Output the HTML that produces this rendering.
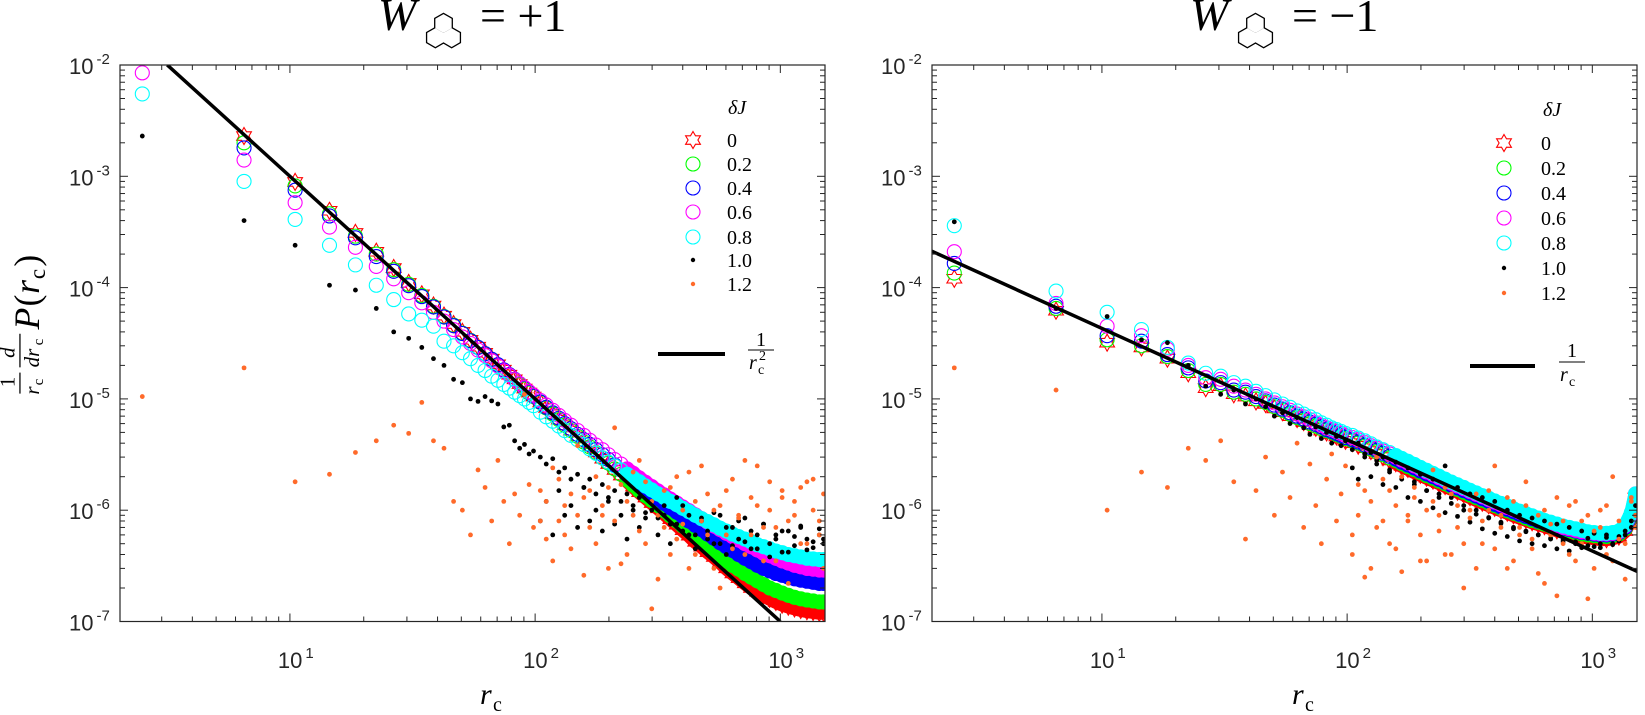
<!DOCTYPE html>
<html><head><meta charset="utf-8">
<style>
html,body{margin:0;padding:0;background:#fff;}
svg{display:block;}
.tk{font-family:"Liberation Sans",sans-serif;font-size:22px;fill:#262626;}
.ex{font-size:15px;}
.it{font-family:"Liberation Serif","DejaVu Serif",serif;font-style:italic;fill:#000;}
.rm{font-family:"Liberation Serif","DejaVu Serif",serif;fill:#000;}
</style></head>
<body>
<svg id="fig" width="1645" height="715" viewBox="0 0 1645 715" xmlns="http://www.w3.org/2000/svg">
<defs>
<clipPath id="clipL"><rect x="120" y="65" width="705" height="556.5"/></clipPath>
<clipPath id="clipR"><rect x="932" y="65" width="705" height="556.5"/></clipPath>
</defs>
<g id="titles"></g>
<g id="panelL"></g>
<g id="panelR"></g>
<g id="ylabel" transform="translate(0,318) rotate(-90) scale(1.05)">
  <text class="rm" x="-66" y="14" font-size="20">1</text>
  <line x1="-72" x2="-52" y1="19" y2="19" stroke="#000" stroke-width="1.2"/>
  <text class="it" x="-73" y="37" font-size="20">r</text><text class="rm" x="-64" y="41" font-size="14">c</text>
  <text class="it" x="-38" y="14" font-size="20">d</text>
  <line x1="-47" x2="-15" y1="19" y2="19" stroke="#000" stroke-width="1.2"/>
  <text class="it" x="-47" y="37" font-size="20">dr</text><text class="rm" x="-26" y="41" font-size="14">c</text>
  <text class="it" x="-11" y="37" font-size="34">P</text>
  <text class="rm" x="11" y="37" font-size="34">(</text>
  <text class="it" x="23" y="37" font-size="34">r</text>
  <text class="rm" x="37" y="43" font-size="22">c</text>
  <text class="rm" x="49" y="37" font-size="34">)</text>
</g>
<g><text class="it" x="480" y="704" font-size="30">r</text><text class="rm" x="493" y="711" font-size="20">c</text></g>
<g><text class="it" x="1292" y="704" font-size="30">r</text><text class="rm" x="1305" y="711" font-size="20">c</text></g>
</svg>
<script>
// ---- shared x categories (r_c) ----
const rGrid = [2.5,6.5,10.5,14.5,18.5,22.5,26.5,30.5,34.5,38.5,42.5,46.5,50.5,54.5,58.5,62.5,66.5,70.5,74.5,78.5,82.5,86.5,90.5,94.5,98.5,
105,111,118,125,132,140,149,158,167,177,188,199,211,224,237,251,266,282,299,317,336,356,378,400,424,450,477,505,536,568,602,638,676,717,760,805,854,905,959,1017,1078,1142,1211,1284,1361,1442,1500];
const rLate = rGrid.slice(25);
const xTickLabels = ["1","2","3"];
const yTickExps = ["-2","-3","-4","-5","-6","-7"];
const legendLabels = ["0","0.2","0.4","0.6","0.8","1.0","1.2"];
const lineCoefL = 0.1;      // 1/r^2 reference: C / r^2
const lineCoefR = 4.3e-4;   // 1/r reference: C / r

// ---- left panel (W = +1) ----
const L_red = [1.6e-2,2.3e-3,8.9e-4,4.9e-4,3.1e-4,2.1e-4,1.5e-4,1.1e-4,8.7e-5,6.9e-5,5.6e-5,4.7e-5,4.0e-5,3.4e-5,2.95e-5,2.6e-5,2.3e-5,2.05e-5,1.83e-5,1.65e-5,1.5e-5,1.36e-5,1.24e-5,1.14e-5,1.05e-5,
9.3e-6,8.3e-6,7.3e-6,6.5e-6,5.8e-6,5.2e-6,4.6e-6,4.1e-6,3.7e-6,3.3e-6,2.9e-6,2.6e-6,2.3e-6,2.05e-6,1.83e-6,1.63e-6,1.45e-6,1.3e-6,1.16e-6,1.04e-6,9.3e-7,8.3e-7,7.4e-7,6.6e-7,5.9e-7,5.2e-7,4.7e-7,4.2e-7,3.8e-7,3.4e-7,3.0e-7,2.7e-7,2.45e-7,2.2e-7,2.0e-7,1.85e-7,1.72e-7,1.6e-7,1.5e-7,1.42e-7,1.36e-7,1.31e-7,1.27e-7,1.24e-7,1.22e-7,1.2e-7,1.2e-7];
const L_green = [1.5e-2,2.0e-3,8.2e-4,4.6e-4,2.9e-4,2.0e-4,1.45e-4,1.07e-4,8.5e-5,6.8e-5,5.5e-5,4.6e-5,3.9e-5,3.35e-5,2.9e-5,2.55e-5,2.27e-5,2.02e-5,1.81e-5,1.64e-5,1.49e-5,1.35e-5,1.23e-5,1.13e-5,1.05e-5,
9.3e-6,8.3e-6,7.3e-6,6.5e-6,5.8e-6,5.2e-6,4.6e-6,4.1e-6,3.7e-6,3.3e-6,2.95e-6,2.65e-6,2.35e-6,2.1e-6,1.88e-6,1.68e-6,1.5e-6,1.35e-6,1.22e-6,1.1e-6,9.9e-7,8.9e-7,8.0e-7,7.2e-7,6.5e-7,5.8e-7,5.2e-7,4.7e-7,4.25e-7,3.85e-7,3.5e-7,3.2e-7,2.95e-7,2.7e-7,2.5e-7,2.32e-7,2.15e-7,2.0e-7,1.9e-7,1.8e-7,1.72e-7,1.65e-7,1.6e-7,1.56e-7,1.53e-7,1.5e-7,1.5e-7];
const L_blue = [1.3e-2,1.8e-3,7.5e-4,4.4e-4,2.8e-4,1.9e-4,1.4e-4,1.04e-4,8.3e-5,6.7e-5,5.45e-5,4.55e-5,3.87e-5,3.33e-5,2.9e-5,2.55e-5,2.27e-5,2.03e-5,1.82e-5,1.65e-5,1.5e-5,1.37e-5,1.25e-5,1.15e-5,1.06e-5,
9.4e-6,8.4e-6,7.5e-6,6.7e-6,6.0e-6,5.4e-6,4.8e-6,4.3e-6,3.9e-6,3.5e-6,3.15e-6,2.85e-6,2.55e-6,2.3e-6,2.08e-6,1.88e-6,1.7e-6,1.54e-6,1.4e-6,1.27e-6,1.15e-6,1.05e-6,9.6e-7,8.8e-7,8.0e-7,7.3e-7,6.7e-7,6.1e-7,5.6e-7,5.1e-7,4.7e-7,4.35e-7,4.0e-7,3.7e-7,3.45e-7,3.2e-7,3.0e-7,2.85e-7,2.7e-7,2.6e-7,2.5e-7,2.42e-7,2.35e-7,2.3e-7,2.25e-7,2.2e-7,2.2e-7];
const L_magenta = [8.5e-3,1.4e-3,5.8e-4,3.5e-4,2.3e-4,1.55e-4,1.2e-4,9.0e-5,7.3e-5,6.0e-5,5.0e-5,4.2e-5,3.6e-5,3.15e-5,2.75e-5,2.45e-5,2.2e-5,1.98e-5,1.79e-5,1.63e-5,1.49e-5,1.37e-5,1.26e-5,1.16e-5,1.08e-5,
9.7e-6,8.8e-6,7.9e-6,7.1e-6,6.4e-6,5.8e-6,5.2e-6,4.7e-6,4.25e-6,3.85e-6,3.5e-6,3.15e-6,2.85e-6,2.6e-6,2.35e-6,2.15e-6,1.95e-6,1.78e-6,1.63e-6,1.49e-6,1.37e-6,1.26e-6,1.16e-6,1.07e-6,9.9e-7,9.1e-7,8.4e-7,7.8e-7,7.2e-7,6.7e-7,6.2e-7,5.8e-7,5.4e-7,5.0e-7,4.7e-7,4.4e-7,4.1e-7,3.9e-7,3.7e-7,3.5e-7,3.35e-7,3.2e-7,3.1e-7,3.0e-7,2.95e-7,2.9e-7,2.9e-7];
const L_cyan = [5.5e-3,9.0e-4,4.1e-4,2.4e-4,1.6e-4,1.05e-4,7.8e-5,5.8e-5,5.1e-5,4.5e-5,3.3e-5,3.0e-5,2.6e-5,2.3e-5,2.0e-5,1.8e-5,1.6e-5,1.47e-5,1.35e-5,1.25e-5,1.15e-5,1.07e-5,1.0e-5,9.3e-6,8.7e-6,
7.6e-6,6.9e-6,6.3e-6,5.7e-6,5.2e-6,4.7e-6,4.3e-6,3.9e-6,3.55e-6,3.25e-6,2.95e-6,2.7e-6,2.5e-6,2.3e-6,2.1e-6,1.95e-6,1.8e-6,1.65e-6,1.52e-6,1.4e-6,1.3e-6,1.2e-6,1.12e-6,1.04e-6,9.7e-7,9.0e-7,8.4e-7,7.9e-7,7.4e-7,6.9e-7,6.5e-7,6.1e-7,5.8e-7,5.5e-7,5.2e-7,4.9e-7,4.7e-7,4.5e-7,4.3e-7,4.15e-7,4.0e-7,3.9e-7,3.8e-7,3.7e-7,3.65e-7,3.6e-7,3.6e-7];
const L_black = [2.3e-3,4.0e-4,2.4e-4,1.05e-4,9.5e-5,6.5e-5,4.0e-5,3.5e-5,2.9e-5,2.3e-5,2.0e-5,1.5e-5,1.4e-5,1.0e-5,9.5e-6,1.05e-5,9.6e-6,9.0e-6,5.6e-6,5.8e-6,4.2e-6,3.6e-6,3.9e-6,3.2e-6,3.4e-6,
3.0e-6,2.6e-6,2.9e-6,2.2e-6,2.4e-6,1.9e-6,2.1e-6,1.6e-6,1.9e-6,1.4e-6,1.7e-6,1.3e-6,1.5e-6,1.2e-6,1.4e-6,1.0e-6,1.3e-6,9.5e-7,1.2e-6,8.5e-7,1.1e-6,7.5e-7,1.3e-6,6.5e-7,9.0e-7,6.0e-7,8.5e-7,5.5e-7,9.5e-7,5.0e-7,7.0e-7,4.8e-7,8.0e-7,5.2e-7,6.5e-7,4.5e-7,7.5e-7,5.0e-7,6.0e-7,4.2e-7,6.5e-7,4.8e-7,7.0e-7,5.5e-7,4.6e-7,6.0e-7,5.0e-7];
const L_black2 = [8e-7,1.2e-6,6e-7,1.5e-6,9e-7,1.1e-6,7e-7,1.6e-6,8e-7,1.0e-6,6.5e-7,1.2e-6,7.5e-7,9e-7,5.5e-7,1.1e-6,7e-7,8.5e-7,1.0e-6,6e-7,9e-7,5e-7,7.5e-7,1.1e-6,6e-7,4.5e-7,8e-7,6.5e-7,5e-7,9e-7,4e-7,7e-7,5.5e-7,8.5e-7,4.5e-7,6e-7,7.5e-7,3.8e-7,5.5e-7,6.5e-7,4.2e-7,5.8e-7,7.2e-7,4.4e-7,5.2e-7,6.8e-7,5.5e-7];
const L_orange = [1.05e-5,1.9e-5,1.8e-6,2.1e-6,3.3e-6,4.2e-6,5.8e-6,4.9e-6,9.3e-6,4.2e-6,3.6e-6,1.2e-6,1.0e-6,6.0e-7,2.3e-6,1.6e-6,8.0e-7,2.8e-6,1.2e-6,5.0e-7,1.4e-6,9.0e-7,1.1e-5,1.7e-6,7.0e-7,
1.5e-6,5.5e-7,2.4e-6,8.0e-7,1.1e-6,4.5e-7,3.8e-6,1.3e-6,7.0e-7,2.0e-6,9.0e-7,1.6e-6,5.5e-6,3.3e-7,1.2e-6,2.2e-6,6.5e-7,1.8e-6,1.3e-7,9.0e-7,1.5e-6,4.0e-7,2.0e-6,7.5e-7,3.0e-7,1.2e-6,2.5e-6,6.0e-7,1.0e-6,2.0e-7,1.5e-6,4.5e-7,8.5e-7,2.8e-6,6.0e-7,1.1e-6,3.5e-7,1.8e-6,7.0e-7,1.3e-6,2.2e-7,9.0e-7,1.6e-6,5.0e-7,1.9e-6,8.0e-7,3.0e-7];
const L_orange2 = [8e-7,1.2e-6,3.5e-7,1.9e-6,6e-7,1.4e-6,9e-7,2.6e-7,1.5e-6,5e-7,1.1e-6,3e-7,8e-7,1.7e-6,4e-7,9e-7,2.8e-6,5e-7,1.2e-6,2.4e-7,7e-7,1.6e-6,5.5e-7,1.0e-6,2.2e-6,4e-7,8e-7,1.4e-6,3e-7,1.1e-6,6e-7,1.9e-6,9e-7,4e-7,1.3e-6,2.5e-6,7e-7,1e-6,3.5e-7,1.5e-6,8e-7,1.2e-6,5e-7,1.8e-6,1e-6,6e-7,1.4e-6];

// ---- right panel (W = -1) ----
const R_red = [1.2e-4,6.2e-5,3.2e-5,2.9e-5,2.3e-5,1.7e-5,1.25e-5,1.3e-5,1.1e-5,1.05e-5,9.5e-6,9.0e-6,8.2e-6,7.6e-6,7.0e-6,6.6e-6,6.2e-6,5.8e-6,5.5e-6,5.2e-6,5.0e-6,4.8e-6,4.6e-6,4.4e-6,4.2e-6,
4.0e-6,3.8e-6,3.6e-6,3.4e-6,3.2e-6,3.0e-6,2.8e-6,2.65e-6,2.5e-6,2.35e-6,2.2e-6,2.08e-6,1.96e-6,1.85e-6,1.75e-6,1.65e-6,1.56e-6,1.47e-6,1.39e-6,1.31e-6,1.24e-6,1.17e-6,1.11e-6,1.05e-6,1.0e-6,9.5e-7,9.0e-7,8.6e-7,8.2e-7,7.8e-7,7.5e-7,7.2e-7,6.9e-7,6.6e-7,6.4e-7,6.2e-7,6.0e-7,5.8e-7,5.7e-7,5.6e-7,5.5e-7,5.5e-7,5.6e-7,5.8e-7,6.5e-7,8.5e-7,1.3e-6];
const R_green = [1.35e-4,6.5e-5,3.4e-5,3.0e-5,2.4e-5,1.8e-5,1.35e-5,1.35e-5,1.15e-5,1.1e-5,1.0e-5,9.3e-6,8.5e-6,7.9e-6,7.3e-6,6.8e-6,6.4e-6,6.0e-6,5.7e-6,5.4e-6,5.2e-6,5.0e-6,4.8e-6,4.6e-6,4.4e-6,
4.2e-6,4.0e-6,3.75e-6,3.55e-6,3.35e-6,3.15e-6,2.95e-6,2.8e-6,2.62e-6,2.47e-6,2.32e-6,2.18e-6,2.05e-6,1.94e-6,1.83e-6,1.73e-6,1.63e-6,1.54e-6,1.45e-6,1.37e-6,1.3e-6,1.23e-6,1.16e-6,1.1e-6,1.04e-6,9.9e-7,9.4e-7,9.0e-7,8.5e-7,8.1e-7,7.8e-7,7.5e-7,7.2e-7,6.9e-7,6.7e-7,6.5e-7,6.3e-7,6.1e-7,6.0e-7,5.9e-7,5.8e-7,5.8e-7,5.9e-7,6.1e-7,6.8e-7,8.8e-7,1.3e-6];
const R_blue = [1.65e-4,6.8e-5,3.7e-5,3.3e-5,2.5e-5,1.9e-5,1.45e-5,1.4e-5,1.2e-5,1.15e-5,1.05e-5,9.6e-6,8.8e-6,8.1e-6,7.5e-6,7.0e-6,6.6e-6,6.2e-6,5.9e-6,5.6e-6,5.3e-6,5.1e-6,4.9e-6,4.7e-6,4.5e-6,
4.3e-6,4.1e-6,3.85e-6,3.65e-6,3.45e-6,3.25e-6,3.05e-6,2.88e-6,2.7e-6,2.55e-6,2.4e-6,2.25e-6,2.12e-6,2.0e-6,1.89e-6,1.78e-6,1.68e-6,1.59e-6,1.5e-6,1.42e-6,1.34e-6,1.27e-6,1.2e-6,1.13e-6,1.07e-6,1.02e-6,9.7e-7,9.2e-7,8.8e-7,8.4e-7,8.0e-7,7.7e-7,7.4e-7,7.1e-7,6.9e-7,6.7e-7,6.5e-7,6.3e-7,6.2e-7,6.1e-7,6.0e-7,6.0e-7,6.1e-7,6.3e-7,7.0e-7,9.0e-7,1.35e-6];
const R_magenta = [2.1e-4,7.2e-5,4.5e-5,3.7e-5,2.8e-5,2.0e-5,1.55e-5,1.5e-5,1.3e-5,1.2e-5,1.1e-5,1.0e-5,9.2e-6,8.5e-6,7.9e-6,7.3e-6,6.9e-6,6.5e-6,6.1e-6,5.8e-6,5.5e-6,5.3e-6,5.1e-6,4.9e-6,4.7e-6,
4.5e-6,4.3e-6,4.05e-6,3.8e-6,3.6e-6,3.4e-6,3.2e-6,3.0e-6,2.82e-6,2.66e-6,2.5e-6,2.35e-6,2.21e-6,2.08e-6,1.96e-6,1.85e-6,1.75e-6,1.65e-6,1.56e-6,1.47e-6,1.39e-6,1.32e-6,1.25e-6,1.18e-6,1.12e-6,1.06e-6,1.01e-6,9.6e-7,9.1e-7,8.7e-7,8.3e-7,7.9e-7,7.6e-7,7.3e-7,7.0e-7,6.8e-7,6.6e-7,6.4e-7,6.3e-7,6.2e-7,6.1e-7,6.1e-7,6.2e-7,6.4e-7,7.2e-7,9.2e-7,1.4e-6];
const R_cyan = [3.6e-4,9.3e-5,6.0e-5,4.2e-5,2.9e-5,2.1e-5,1.7e-5,1.6e-5,1.4e-5,1.3e-5,1.17e-5,1.07e-5,9.8e-6,9.0e-6,8.4e-6,7.8e-6,7.3e-6,6.9e-6,6.5e-6,6.1e-6,5.8e-6,5.5e-6,5.3e-6,5.1e-6,4.9e-6,
4.7e-6,4.45e-6,4.2e-6,3.95e-6,3.7e-6,3.5e-6,3.3e-6,3.1e-6,2.92e-6,2.75e-6,2.58e-6,2.42e-6,2.28e-6,2.14e-6,2.02e-6,1.9e-6,1.79e-6,1.69e-6,1.6e-6,1.51e-6,1.43e-6,1.35e-6,1.28e-6,1.21e-6,1.15e-6,1.09e-6,1.03e-6,9.8e-7,9.3e-7,8.9e-7,8.5e-7,8.1e-7,7.8e-7,7.5e-7,7.2e-7,7.0e-7,6.8e-7,6.6e-7,6.4e-7,6.3e-7,6.2e-7,6.2e-7,6.3e-7,6.5e-7,7.3e-7,9.5e-7,1.4e-6];
const R_black = [3.9e-4,6.5e-5,5.5e-5,3.4e-5,3.2e-5,2.0e-5,1.3e-5,1.1e-5,1.2e-5,9.0e-6,1.0e-5,8.5e-6,7.0e-6,7.5e-6,6.0e-6,6.8e-6,5.5e-6,4.8e-6,5.6e-6,4.4e-6,5.0e-6,4.0e-6,4.6e-6,3.8e-6,4.2e-6,
3.5e-6,4.0e-6,3.0e-6,3.3e-6,2.6e-6,3.0e-6,2.2e-6,2.7e-6,2.0e-6,2.4e-6,1.8e-6,2.1e-6,1.5e-6,1.9e-6,1.4e-6,2.5e-6,1.3e-6,1.6e-6,1.1e-6,1.4e-6,1.0e-6,1.3e-6,8.5e-7,1.2e-6,7.8e-7,1.0e-6,7.0e-7,9.0e-7,6.5e-7,8.5e-7,6.0e-7,8.0e-7,5.5e-7,7.5e-7,5.2e-7,7.0e-7,5.0e-7,6.5e-7,4.8e-7,6.2e-7,4.6e-7,6.0e-7,5.0e-7,5.8e-7,6.5e-7,8.0e-7,1.1e-6];
const R_black2 = [2.4e-6,1.9e-6,3.2e-6,2.0e-6,2.8e-6,1.7e-6,2.3e-6,1.6e-6,1.9e-6,1.3e-6,1.7e-6,1.2e-6,1.5e-6,1.05e-6,1.3e-6,9.5e-7,1.15e-6,8.8e-7,1.0e-6,7.8e-7,9.2e-7,6.8e-7,8.6e-7,6.2e-7,7.6e-7,5.8e-7,6.8e-7,5.3e-7,6.4e-7,5.0e-7,6.0e-7,4.8e-7,5.6e-7,4.5e-7,5.4e-7,4.3e-7,5.2e-7,4.6e-7,5.6e-7,4.7e-7,5.0e-7,5.7e-7,4.9e-7,5.3e-7,6.0e-7,7.0e-7,9.0e-7];
const R_orange = [1.9e-5,1.2e-5,1.0e-6,2.2e-6,1.6e-6,3.6e-6,2.8e-6,4.2e-6,1.8e-6,5.5e-7,1.5e-6,3.0e-6,9.0e-7,2.2e-6,1.3e-6,4.0e-6,7.0e-7,2.6e-6,1.1e-6,5.0e-7,1.9e-6,3.2e-6,8.0e-7,1.4e-6,2.5e-6,
6.0e-7,1.7e-6,2.5e-7,1.2e-6,3.0e-6,8.0e-7,1.5e-6,4.5e-7,2.0e-6,9.0e-7,1.3e-6,3.5e-7,1.0e-6,2.3e-6,6.5e-7,1.6e-6,4.0e-7,1.1e-6,2.0e-7,8.5e-7,1.4e-6,5.0e-7,1.0e-6,2.5e-6,7.0e-7,3.0e-7,1.2e-6,6.0e-7,1.8e-6,4.5e-7,9.0e-7,2.2e-7,7.5e-7,1.3e-6,5.0e-7,1.1e-6,3.5e-7,8.0e-7,1.6e-7,6.5e-7,1.0e-6,4.0e-7,2.0e-6,5.5e-7,2.4e-7,1.2e-6,7.0e-7];
const R_orange2 = [4e-7,9e-7,1.5e-6,3e-7,7e-7,1.9e-6,5e-7,1.1e-6,2.8e-7,8e-7,1.6e-6,6e-7,3.5e-7,1.2e-6,9e-7,4e-7,1.4e-6,7e-7,5e-7,1.0e-6,3e-7,8e-7,1.5e-6,4.5e-7,9e-7,1.3e-6,3.5e-7,7e-7,1.1e-6,5.5e-7,2.7e-7,1.0e-6,6e-7,1.7e-7,8e-7,4e-7,1.2e-6,5e-7,9e-7,3e-7,7e-7,1.1e-6,3.5e-7,8e-7,5e-7,1.3e-6,9e-7];

const NS = "http://www.w3.org/2000/svg";
function mk(tag, attrs, parent){
  const e = document.createElementNS(NS, tag);
  for (const k in attrs) e.setAttribute(k, attrs[k]);
  if (parent) parent.appendChild(e);
  return e;
}
const LOGXMIN = 0.307, DEC = 245.2, YTOP = 65, YDEC = 111.3, W = 705, H = 556.5;
function makeScales(x0){
  return {
    x: r => x0 + (Math.log10(r) - LOGXMIN) * DEC,
    y: v => YTOP + (-2 - Math.log10(v)) * YDEC
  };
}
function starPts(cx, cy, R){
  const ri = R * 0.577, p = [];
  for (let i = 0; i < 12; i++){
    const a = -Math.PI/2 + i * Math.PI/6, rr = (i % 2 === 0) ? R : ri;
    p.push((cx + rr*Math.cos(a)).toFixed(1) + "," + (cy + rr*Math.sin(a)).toFixed(1));
  }
  return p.join(" ");
}
function drawAxes(g, x0, sc){
  const tg = mk("g", {stroke:"#262626","stroke-width":1}, g);
  
  
  for (let d = 0; d <= 3; d++){
    for (let m = 1; m <= 9; m++){
      const r = m * Math.pow(10, d);
      const x = sc.x(r);
      if (x < x0 - 0.5 || x > x0 + W + 0.5) continue;
      const L = m === 1 ? 8 : 5;
      mk("line", {x1:x, x2:x, y1:YTOP+H, y2:YTOP+H-L}, tg);
      mk("line", {x1:x, x2:x, y1:YTOP, y2:YTOP+L}, tg);
    }
  }
  for (let d = -7; d <= -3; d++){
    for (let m = 1; m <= 9; m++){
      const v = m * Math.pow(10, d);
      const y = sc.y(v);
      if (y < YTOP - 0.5) continue;
      const L = m === 1 ? 8 : 5;
      mk("line", {x1:x0, x2:x0+L, y1:y, y2:y}, tg);
      mk("line", {x1:x0+W, x2:x0+W-L, y1:y, y2:y}, tg);
    }
  }
  const box = mk("rect", {x:x0, y:YTOP, width:W, height:H, fill:"none", stroke:"#262626", "stroke-width":1.2}, g);
  
  
  xTickLabels.forEach((e, i) => {
    const x = sc.x(Math.pow(10, +e));
    const t = mk("text", {class:"tk", x:x-12, y:668}, g);
    
    
    t.textContent = "10";
    const s = mk("tspan", {class:"ex", dy:-10, dx:3}, t); s.textContent = e;
  });
  yTickExps.forEach(e => {
    const y = sc.y(Math.pow(10, +e));
    const t = mk("text", {class:"tk", x:x0-51, y:y+9}, g);
    
    
    t.textContent = "10";
    const s = mk("tspan", {class:"ex", dy:-10, dx:3}, t); s.textContent = e;
  });
}
function drawCircleSeries(g, sc, xs, ys, color, bandFrom, name){
  const sg = mk("g", {}, g);
  
  
  const n = Math.min(xs.length, ys.length);
  const pts = [];
  for (let i = 0; i < n; i++) if (xs[i] >= bandFrom) pts.push(sc.x(xs[i]).toFixed(1)+","+sc.y(ys[i]).toFixed(1));
  if (pts.length > 1){
    const b = mk("polyline", {points:pts.join(" "), fill:"none", stroke:color, "stroke-width":14, "stroke-linecap":"round", "stroke-linejoin":"round"}, sg);
    
    
  }
  for (let i = 0; i < n; i++){
    const c = mk("circle", {cx:sc.x(xs[i]), cy:sc.y(ys[i]), r:7, fill:"none", stroke:color, "stroke-width":1.1}, sg);
    
    
  }
}
function drawStarSeries(g, sc, xs, ys, bandFrom, name){
  const sg = mk("g", {}, g);
  
  
  const n = Math.min(xs.length, ys.length);
  const pts = [];
  for (let i = 0; i < n; i++) if (xs[i] >= bandFrom) pts.push(sc.x(xs[i]).toFixed(1)+","+sc.y(ys[i]).toFixed(1));
  if (pts.length > 1){
    const b = mk("polyline", {points:pts.join(" "), fill:"none", stroke:"#ff0000", "stroke-width":14, "stroke-linecap":"round"}, sg);
    
    
  }
  for (let i = 0; i < n; i++){
    const s = mk("polygon", {points:starPts(sc.x(xs[i]), sc.y(ys[i]), 8.5), fill:"none", stroke:"#ff0000", "stroke-width":1.1}, sg);
    
    
  }
}
function drawDots(g, sc, xs, ys, color, r, name){
  const sg = mk("g", {fill:color}, g);
  
  
  const n = Math.min(xs.length, ys.length);
  for (let i = 0; i < n; i++){
    const c = mk("circle", {cx:sc.x(xs[i]), cy:sc.y(ys[i]), r:r}, sg);
    
    
  }
}
function drawLegend(g, mx, lx, ys, titleX, titleY){
  const lg = mk("g", {}, g);
  
  
  const tt = mk("text", {class:"it", x:titleX, y:titleY, "font-size":20}, lg);
  
  
  tt.textContent = "δJ";
  const cols = ["#ff0000","#00ff00","#0000ff","#ff00ff","#00ffff","#000000","#ff6a2a"];
  legendLabels.forEach((lab, i) => {
    const y = ys[i];
    const e = mk("g", {}, lg);
    
    
    if (i === 0) mk("polygon", {points:starPts(mx, y, 8.5), fill:"none", stroke:cols[0], "stroke-width":1.1}, e);
    else if (i < 5) mk("circle", {cx:mx, cy:y, r:7, fill:"none", stroke:cols[i], "stroke-width":1.1}, e);
    else mk("circle", {cx:mx, cy:y, r:2.2, fill:cols[i]}, e);
    const t = mk("text", {class:"rm", x:lx, y:y+7, "font-size":20}, e);
    t.textContent = lab;
  });
}
function hexIcon(g, cx, cy, s){
  const centers = [[cx, cy], [cx - s*0.866, cy + 1.5*s], [cx + s*0.866, cy + 1.5*s]];
  const hex = c => { const p=[]; for (let i=0;i<6;i++){ const a=-Math.PI/2+i*Math.PI/3; p.push((c[0]+s*Math.cos(a)).toFixed(2)+","+(c[1]+s*Math.sin(a)).toFixed(2)); } return p.join(" "); };
  centers.forEach(c => mk("polygon", {points:hex(c), fill:"none", stroke:"#000", "stroke-width":2.6}, g));
  centers.forEach(c => mk("polygon", {points:hex(c), fill:"#fff", stroke:"none"}, g));
}
function title(sign, dx){
  const tg = document.getElementById("titles");
  const g = mk("g", {}, tg);
  
  
  const w = mk("text", {class:"it", x:378+dx, y:30, "font-size":46}, g); w.textContent = "W";
  hexIcon(g, 443.5+dx, 23.5, 9.4);
  const e = mk("text", {class:"rm", x:480+dx, y:31, "font-size":46}, g); e.textContent = "= " + sign + "1";
}
function panel(id, x0, clipId, S, lineFn, lineR0, lineR1, bandFrom, legendYs, mx, lx, tx, ty){
  const g = document.getElementById(id);
  const sc = makeScales(x0);
  const dg = mk("g", {"clip-path":"url(#"+clipId+")"}, g);
  drawStarSeries(dg, sc, rGrid, S.red, bandFrom, "series-dj-0");
  drawCircleSeries(dg, sc, rGrid, S.green, "#00ff00", bandFrom, "series-dj-0.2");
  drawCircleSeries(dg, sc, rGrid, S.blue, "#0000ff", bandFrom, "series-dj-0.4");
  drawCircleSeries(dg, sc, rGrid, S.magenta, "#ff00ff", bandFrom, "series-dj-0.6");
  drawCircleSeries(dg, sc, rGrid, S.cyan, "#00ffff", bandFrom, "series-dj-0.8");
  drawDots(dg, sc, rGrid, S.black, "#000000", 2.4, "series-dj-1.0");
  drawDots(dg, sc, rLate, S.black2, "#000000", 2.4, "series-dj-1.0-extra");
  drawDots(dg, sc, rGrid, S.orange, "#ff6a2a", 2.4, "series-dj-1.2");
  drawDots(dg, sc, rLate, S.orange2, "#ff6a2a", 2.4, "series-dj-1.2-extra");
  const l = mk("line", {x1:sc.x(lineR0), y1:sc.y(lineFn(lineR0)), x2:sc.x(lineR1), y2:sc.y(lineFn(lineR1)), stroke:"#000", "stroke-width":3.5}, dg);
  
  
  drawAxes(g, x0, sc);
  drawLegend(g, mx, lx, legendYs, tx, ty);
  return g;
}
title("+", 0);
title("−", 812);
const gl = panel("panelL", 120, "clipL", {red:L_red, green:L_green, blue:L_blue, magenta:L_magenta, cyan:L_cyan, black:L_black, black2:L_black2, orange:L_orange, orange2:L_orange2},
  r => lineCoefL / (r*r), 3.16, 1000, 230, [140,164,188,212,237,260,284], 693, 727, 728, 114);
const gr = panel("panelR", 932, "clipR", {red:R_red, green:R_green, blue:R_blue, magenta:R_magenta, cyan:R_cyan, black:R_black, black2:R_black2, orange:R_orange, orange2:R_orange2},
  r => lineCoefR / r, 2.0, 1600, 150, [143,168,193,218,243,268,293], 1504, 1541, 1543, 116);
function lineLegend(g, x1, x2, y, fx, num1y, barY, denY, sq){
  const lg = mk("g", {}, g);
  
  
  mk("line", {x1:x1, x2:x2, y1:y, y2:y, stroke:"#000", "stroke-width":4}, lg);
  const n = mk("text", {class:"rm", x:fx+6, y:num1y, "font-size":20}, lg); n.textContent = "1";
  mk("line", {x1:fx-2, x2:fx+24, y1:barY, y2:barY, stroke:"#000", "stroke-width":1}, lg);
  const r = mk("text", {class:"it", x:fx-1, y:denY, "font-size":20}, lg); r.textContent = "r";
  const c = mk("text", {class:"rm", x:fx+8, y:denY+5, "font-size":14}, lg); c.textContent = "c";
  if (sq){ const s = mk("text", {class:"rm", x:fx+9, y:denY-9, "font-size":14}, lg); s.textContent = "2"; }
}
lineLegend(gl, 658, 725, 354, 750, 346, 350, 369, true);
lineLegend(gr, 1470, 1535, 366, 1561, 357, 362, 381, false);
</script>
</body></html>
